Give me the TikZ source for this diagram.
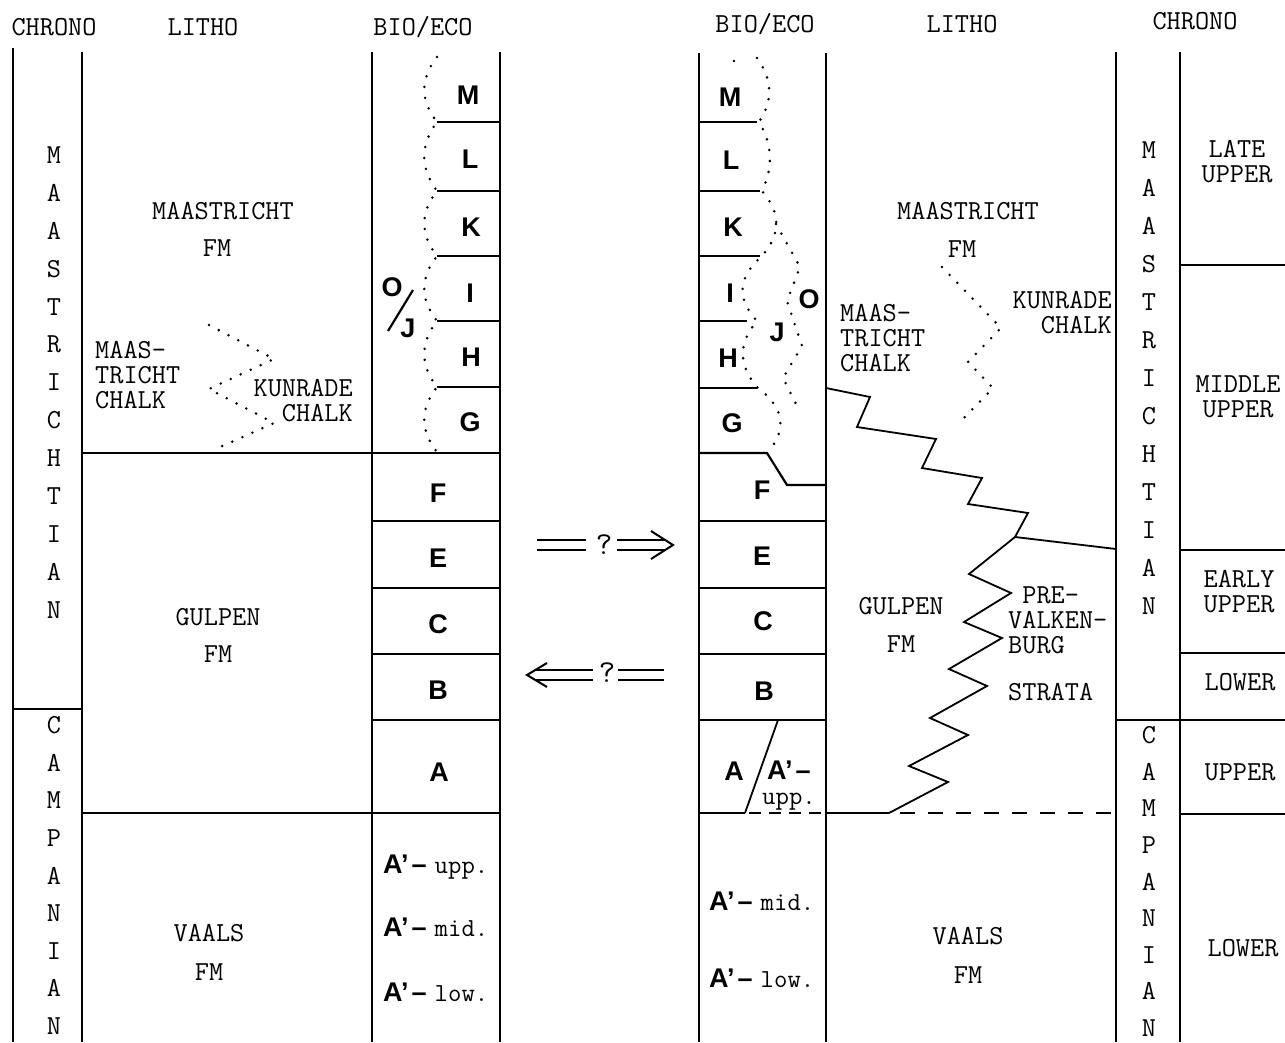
\documentclass[tikz,border=0pt]{standalone}
\usepackage{fontspec}
\newfontfamily\sansf{Liberation Sans}
\newcommand\monof{\ttfamily}
\newcommand\aprm[1]{{\sansf\bfseries\fontsize{27}{30}\selectfont A’\hspace{3pt}–}\hspace{8pt}{\monof\fontsize{26}{25}\selectfont #1}}
\begin{document}
\begin{tikzpicture}[x=1pt,y=-1pt,
  frame/.style={line width=2.4pt},
  zl/.style={line width=2.2pt},
  zz/.style={line width=1.8pt, line join=miter},
  dotl/.style={line width=2.8pt, line cap=round, dash pattern=on 0pt off 11pt},
  mono/.style={font=\monof\fontsize{27.5}{25}\selectfont, inner sep=0pt},
  bio/.style={font=\sansf\bfseries\fontsize{27}{30}\selectfont, inner sep=0pt},
  dbl/.style={double, double distance=8pt, line width=2pt},
  arrowhd/.style={line width=2pt, line join=miter},
]
\useasboundingbox (0,0) rectangle (1285,1042);

% ---------- headers
\node[mono] (hL1) at (54,27) {CHRONO};
\node[mono] (hL2) at (203,27) {LITHO};
\node[mono] (hL3) at (423,27) {BIO/ECO};
\node[mono] (hR1) at (765,24) {BIO/ECO};
\node[mono] (hR2) at (962,24) {LITHO};
\node[mono] (hR3) at (1195,21) {CHRONO};

% ---------- vertical frame lines
\draw[frame] (13,48) -- (13,1042);
\draw[frame] (82,52) -- (82,1042);
\draw[frame] (372,52) -- (372,1042);
\draw[frame] (500,52) -- (500,1042);
\draw[frame] (699,53) -- (699,1042);
\draw[frame] (826,53) -- (826,1042);
\draw[frame] (1116,52) -- (1116,1042);
\draw[frame] (1180,52) -- (1180,1042);

% ---------- left panel horizontals
\draw[zl] (13,709) -- (82,709);
\draw[zl] (82,453) -- (500,453);
\draw[zl] (82,813) -- (500,813);
\foreach \yy in {521,588,654,720} \draw[zl] (372,\yy) -- (500,\yy);
\foreach \yy in {122,191,256,321,387} \draw[zl] (437,\yy) -- (500,\yy);

% ---------- right bio horizontals
\draw[zl] (699,122) -- (757,122);
\draw[zl] (699,191) -- (760,191);
\draw[zl] (699,256) -- (760,256);
\draw[zl] (699,321) -- (747,321);
\draw[zl] (699,388) -- (757,388);
\draw[zl, line join=miter] (699,453) -- (767,453) -- (787,485) -- (826,485);
\foreach \yy in {521,588,654,720} \draw[zl] (699,\yy) -- (826,\yy);
\draw[zz] (778,720) -- (745,813);
\draw[zl] (699,813) -- (745,813);
\draw[zl, dash pattern=on 12pt off 8pt] (749,813) -- (826,813);
\draw[zl] (826,813) -- (889,813);
\draw[zl, dash pattern=on 15pt off 13pt] (900,813) -- (1116,813);

% ---------- right chrono horizontals
\draw[zl] (1116,720) -- (1285,720);
\foreach \yy in {265,550,653,814} \draw[zl] (1180,\yy) -- (1285,\yy);

% ---------- zigzag boundaries (right litho)
\draw[zz] (826,388) -- (870,397) -- (857,427) -- (936,439) -- (922,468) -- (982,478)
  -- (968,504) -- (1028,513) -- (1015,537) -- (1116,549);
\draw[zz] (1015,537) -- (969,574) -- (1011,593) -- (964,622) -- (1002,638) -- (949,669)
  -- (987,686) -- (930,718) -- (968,735) -- (909,766) -- (948,782) -- (889,813);

% ---------- dotted lines
\draw[dotl] (437,57) .. controls (420,79) and (420,100) .. (437,122)
  .. controls (420,145) and (420,168) .. (437,191)
  .. controls (420,213) and (420,234) .. (437,256)
  .. controls (420,278) and (420,299) .. (437,321)
  .. controls (420,343) and (420,365) .. (437,387)
  .. controls (420,409) and (420,430) .. (437,452);
\draw[dotl] (209,325) -- (274,359) -- (209,389) -- (274,423) -- (218,448);
\draw[dotl] (942,267) -- (1001,328) -- (968,362) -- (993,388) -- (959,423);
\draw[dotl] (757,58) .. controls (773,80) and (773,101) .. (759,122)
  .. controls (773,145) and (773,168) .. (762,191)
  .. controls (781,213) and (781,234) .. (762,256)
  .. controls (737,278) and (737,299) .. (757,321)
  .. controls (738,343) and (738,366) .. (758,388)
  .. controls (786,409) and (786,431) .. (768,452);
\draw[dotl] (776,224) -- (800,267) -- (787,301) -- (802,346) -- (783,378) -- (800,412);
\fill (734,61) circle (1.4);

% ---------- chrono letters
\foreach \l [count=\i from 0] in {M,A,A,S,T,R,I,C,H,T,I,A,N}
  \node[mono] (lm\i) at (54,155+37.9*\i) {\l};
\foreach \l [count=\i from 0] in {C,A,M,P,A,N,I,A,N}
  \node[mono] (lc\i) at (54,725+37.6*\i) {\l};
\foreach \l [count=\i from 0] in {M,A,A,S,T,R,I,C,H,T,I,A,N}
  \node[mono] (rm\i) at (1149,150+38*\i) {\l};
\foreach \l [count=\i from 0] in {C,A,M,P,A,N,I,A,N}
  \node[mono] (rc\i) at (1149,735+36.6*\i) {\l};

% ---------- left litho texts
\node[mono] (lmaas) at (223,211) {MAASTRICHT};
\node[mono] (lfm1) at (217,248) {FM};
\node[mono, align=left, anchor=west] (lmc) at (95,375) {MAAS-\\TRICHT\\CHALK};
\node[mono, align=right, anchor=east] (lkc) at (353,400.5) {KUNRADE\\CHALK};
\node[mono] (lgul) at (218,617) {GULPEN};
\node[mono] (lfm2) at (218,654) {FM};
\node[mono] (lvaa) at (209,933) {VAALS};
\node[mono] (lfm3) at (209,972) {FM};

% ---------- left bio texts
\node[bio] (lM) at (468,95) {M};
\node[bio] (lL) at (470,159) {L};
\node[bio] (lK) at (471,227) {K};
\node[bio] (lI) at (470,293) {I};
\node[bio] (lH) at (471,357) {H};
\node[bio] (lG) at (470,422) {G};
\node[bio] (lF) at (438,493) {F};
\node[bio] (lE) at (438,558) {E};
\node[bio] (lC) at (438,624) {C};
\node[bio] (lB) at (438,690) {B};
\node[bio] (lA) at (439,772) {A};
\node[bio] (lO) at (392,287) {O};
\node[bio] (lJ) at (408,328) {J};
\draw[line width=2.2pt] (388,331) -- (413,290);
\node[inner sep=0pt, anchor=base west] (lA1) at (383,873) {\aprm{upp.}};
\node[inner sep=0pt, anchor=base west] (lA2) at (383,936) {\aprm{mid.}};
\node[inner sep=0pt, anchor=base west] (lA3) at (383,1001) {\aprm{low.}};

% ---------- arrows
\coordinate (a1s) at (537,545);
\coordinate (a1m) at (586,545);
\node[mono, font=\monof\fontsize{32}{32}\selectfont] (q1) at (604,545) {?};
\coordinate (a1n) at (617,545);
\coordinate (a1e) at (665,545);
\coordinate (a1t) at (673,545);
\draw[dbl] (a1s) -- (a1m);
\draw[dbl] (a1n) -- (a1e);
\draw[arrowhd] (651,531) -- (a1t) -- (651,559);

\coordinate (a2t) at (527,675);
\coordinate (a2s) at (535,675);
\coordinate (a2m) at (593,675);
\node[mono, font=\monof\fontsize{32}{32}\selectfont] (q2) at (607,673) {?};
\coordinate (a2n) at (618,675);
\coordinate (a2e) at (664,675);
\draw[dbl] (a2s) -- (a2m);
\draw[dbl] (a2n) -- (a2e);
\draw[arrowhd] (547,663) -- (a2t) -- (547,687);

% ---------- right bio texts
\node[bio] (rM) at (730,97) {M};
\node[bio] (rL) at (731,160) {L};
\node[bio] (rK) at (733,227) {K};
\node[bio] (rI) at (730,293) {I};
\node[bio] (rH) at (728,358) {H};
\node[bio] (rG) at (732,423) {G};
\node[bio] (rF) at (762,490) {F};
\node[bio] (rE) at (762,556) {E};
\node[bio] (rC) at (763,621) {C};
\node[bio] (rB) at (764,691) {B};
\node[bio] (rA) at (734,771) {A};
\node[bio] (rO) at (809,299) {O};
\node[bio] (rJ) at (777,332) {J};
\node[bio, anchor=west] (rAp) at (767,770) {A’\hspace{3pt}–};
\node[inner sep=0pt, anchor=base, font=\monof\fontsize{26}{25}\selectfont] (rupp) at (789,804) {upp.};
\node[inner sep=0pt, anchor=base west] (rA2) at (709,910) {\aprm{mid.}};
\node[inner sep=0pt, anchor=base west] (rA3) at (709,987) {\aprm{low.}};

% ---------- right litho texts
\node[mono] (rmaas) at (968,211) {MAASTRICHT};
\node[mono] (rfm1) at (962,249) {FM};
\node[mono, align=left, anchor=west] (rmc) at (840,338) {MAAS-\\TRICHT\\CHALK};
\node[mono, align=right, anchor=east] (rkc) at (1112,312.5) {KUNRADE\\CHALK};
\node[mono] (rgul) at (901,606) {GULPEN};
\node[mono] (rfm2) at (901,644) {FM};
\node[mono, align=left, anchor=west] (rpre) at (1008,620) {\hphantom{V}PRE-\\VALKEN-\\BURG};
\node[mono, anchor=west] (rstr) at (1008,692) {STRATA};
\node[mono] (rvaa) at (968,936) {VAALS};
\node[mono] (rfm3) at (968,975) {FM};

% ---------- right chrono labels
\node[mono, align=center] (late) at (1237,162) {LATE\\UPPER};
\node[mono, align=center] (mid) at (1238,397) {MIDDLE\\UPPER};
\node[mono, align=center] (early) at (1239,592) {EARLY\\UPPER};
\node[mono] (low1) at (1240,682) {LOWER};
\node[mono] (upp1) at (1240,772) {UPPER};
\node[mono] (low2) at (1243,948) {LOWER};
\end{tikzpicture}
\end{document}
